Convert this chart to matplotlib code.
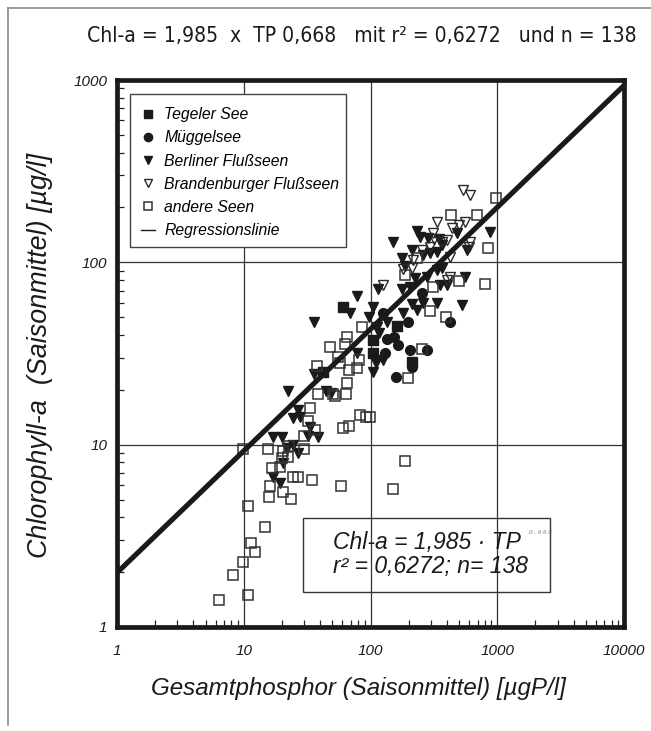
import matplotlib
matplotlib.use('Agg')
import matplotlib.pyplot as plt
from matplotlib.lines import Line2D
from matplotlib.patches import Rectangle
from matplotlib.ticker import FixedLocator, FixedFormatter, LogLocator, NullFormatter
from matplotlib import font_manager as fm
import numpy as np

# ---------------- data ----------------
tegel_tp = [61, 162, 105, 105, 42, 213]
tegel_chl = [57, 45, 37.5, 32, 25, 28.4]

mueggel_tp = [125, 198, 135, 153, 165, 130, 205, 279, 213, 159, 424, 255]
mueggel_chl = [53, 47, 38, 39, 35, 32, 33, 33, 26.7, 23.5, 47, 68]

berlin_tp = [150, 233, 246, 284, 347, 367, 213, 295, 481, 577, 177, 877, 557, 115,
             335, 353, 279, 260, 335,
             78, 69, 36, 105, 97, 112, 117, 78, 111, 125, 105, 177, 205, 213, 260,
             335, 233, 181, 135, 402, 527,
             17, 20, 22, 24.5, 26.8, 20.4, 17, 19.3, 22.3, 44.5, 49, 26.8, 24.5,
             27.8, 33.3, 32.1, 38.5, 35.8,
             187, 367, 223]
berlin_chl = [129, 149, 138, 136, 134, 125, 117, 113, 145, 117, 106, 147, 83, 71,
              91, 75, 83, 110, 114,
              65, 53, 47, 57, 50, 44, 41, 32, 28, 29, 25, 71, 73, 59, 60,
              60, 55, 53, 47, 75, 58,
              11, 11, 9.6, 10, 9.0, 7.9, 6.65, 6.2, 19.7, 19.7, 19.2, 15.5, 14,
              14.2, 12.5, 11.2, 11, 24.5,
              95, 93, 82]

brand_tp = [537, 610, 335, 440, 499, 557, 311, 367, 402, 255, 295, 610, 599, 424,
            216, 181, 125, 424, 402, 318, 213]
brand_chl = [250, 234, 167, 154, 160, 167, 145, 129, 133, 117, 121, 129, 121, 107,
             103, 92, 75, 83, 80, 134, 93]

andere_tp = [977, 432, 692, 845, 800, 499, 187, 233, 311, 295, 394, 255, 198,
             48, 65, 63, 86, 55, 57.5, 81, 78, 68, 38, 65,
             38.5, 50.6, 52.5, 64, 33.3, 32.1, 29.9, 36.5, 60.7, 67.7, 82.7, 92, 99,
             9.9, 15.5, 20.4, 22.8, 29.9, 20, 22.3, 16.7, 19.3, 24.5, 26.8, 34.5,
             16.1, 20.4, 15.8, 23.6, 58.5, 150, 187,
             10.9, 14.7, 11.4, 12.3, 9.9, 8.2, 10.8, 6.4]
andere_chl = [226, 182, 182, 120, 76, 79, 85, 106, 73, 54, 50, 33.5, 23.2,
              34.4, 39, 35.7, 44, 30.3, 28.1, 29.2, 26.4, 25.7, 27, 21.8,
              19, 19, 18.5, 19, 15.9, 13.5, 11.2, 12, 12.4, 12.7, 14.6, 14.2, 14.2,
              9.5, 9.5, 9.2, 9.84, 9.5, 8.5, 8.6, 7.45, 7.5, 6.65, 6.65, 6.4,
              5.93, 5.5, 5.17, 5.04, 5.93, 5.71, 8.1,
              4.61, 3.54, 2.89, 2.58, 2.27, 1.93, 1.5, 1.41]

reg_a = 1.985
reg_b = 0.668
reg_x = [1, 10000]

x_ticks = [1, 10, 100, 1000, 10000]
x_ticklabels = ['1', '10', '100', '1000', '10000']
y_ticks = [1, 10, 100, 1000]
y_ticklabels = ['1', '10', '100', '1000']

legend_labels = ['Tegeler See', 'Müggelsee', 'Berliner Flußseen',
                 'Brandenburger Flußseen', 'andere Seen', 'Regressionslinie']

title_text = 'Chl-a = 1,985  x  TP 0,668   mit r² = 0,6272   und n = 138'
xlabel_text = 'Gesamtphosphor (Saisonmittel) [µgP/l]'
ylabel_text = 'Chlorophyll-a  (Saisonmittel) [µg/l]'
box_line1 = 'Chl-a = 1,985 · TP'
box_sup = '0 , 6 6 8'
box_line2 = 'r² = 0,6272; n= 138'

# ---------------- figure ----------------
W, H = 651, 731
fig = plt.figure(figsize=(W / 100, H / 100), dpi=100)
fig.patch.set_facecolor('white')

SANS = ['Liberation Sans', 'DejaVu Sans']

# look for an installed condensed face for the headline
cond_fp = None
for f in fm.fontManager.ttflist:
    nm = (f.name + ' ' + str(f.fname)).lower()
    if ('narrow' in nm or 'condensed' in nm or str(f.stretch) in ('condensed', 'semi-condensed')) \
            and f.style == 'normal' and str(f.weight) in ('400', 'normal', 'regular', 'book') \
            and 'bold' not in nm and 'light' not in nm and 'mono' not in nm:
        cond_fp = fm.FontProperties(fname=f.fname)
        break
if cond_fp is None:
    cond_fp = fm.FontProperties(family=SANS)

# frame lines of the page
fig.add_artist(Line2D([8 / W, 8 / W], [1 - 8 / H, 1 - 725 / H], color='#8a8a8a', lw=1.2))
fig.add_artist(Line2D([8 / W, 1.0], [1 - 8 / H, 1 - 8 / H], color='#8a8a8a', lw=1.2))

ax = fig.add_axes([117 / W, 1 - 627 / H, 507 / W, 547 / H])
ax.set_xscale('log')
ax.set_yscale('log')
ax.set_xlim(1, 10000)
ax.set_ylim(1, 1000)

for s in ax.spines.values():
    s.set_linewidth(3.4)
    s.set_color('#1a1a1a')
    s.set_zorder(6)

ax.xaxis.set_major_locator(FixedLocator(x_ticks))
ax.xaxis.set_major_formatter(FixedFormatter(x_ticklabels))
ax.yaxis.set_major_locator(FixedLocator(y_ticks))
ax.yaxis.set_major_formatter(FixedFormatter(y_ticklabels))
ax.xaxis.set_minor_locator(LogLocator(base=10, subs=np.arange(2, 10)))
ax.yaxis.set_minor_locator(LogLocator(base=10, subs=np.arange(2, 10)))
ax.xaxis.set_minor_formatter(NullFormatter())
ax.yaxis.set_minor_formatter(NullFormatter())
ax.tick_params(which='both', direction='in', top=False, right=False, color='#222')
ax.tick_params(which='major', length=0)
ax.tick_params(which='minor', length=5, width=0.9)
ax.tick_params(axis='y', pad=7)
ax.tick_params(axis='x', pad=12)
for lab in ax.get_xticklabels() + ax.get_yticklabels():
    lab.set_fontfamily(SANS)
    lab.set_fontstyle('italic')
    lab.set_fontsize(11)
    lab.set_color('#1a1a1a')

ax.grid(which='major', color='#333333', lw=0.9, zorder=0)
ax.set_axisbelow(True)

ms = dict(linestyle='none', zorder=3)
h1, = ax.plot(tegel_tp, tegel_chl, marker='s', ms=7, color='#1a1a1a', **ms)
h2, = ax.plot(mueggel_tp, mueggel_chl, marker='o', ms=7, color='#1a1a1a', **ms)
h3, = ax.plot(berlin_tp, berlin_chl, marker='v', ms=7.5, color='#1a1a1a', **ms)
h4, = ax.plot(brand_tp, brand_chl, marker='v', ms=7.5, mfc='none', mec='#2a2a2a', mew=1.0, **ms)
h5, = ax.plot(andere_tp, andere_chl, marker='s', ms=7, mfc='none', mec='#333333', mew=1.1, **ms)

rx = np.array(reg_x, dtype=float)
ax.plot(rx, reg_a * rx ** reg_b, color='#1a1a1a', lw=3.7, solid_capstyle='butt', zorder=4)

# legend (frame drawn separately for exact size)
reg_proxy = Line2D([], [], color='#1a1a1a', lw=1.0)
leg = ax.legend([h1, h2, h3, h4, h5, reg_proxy], legend_labels,
                loc='upper left', bbox_to_anchor=(13 / 507, 1 - 16 / 547),
                prop={'family': SANS, 'style': 'italic', 'size': 11.3},
                frameon=False, handlelength=0.9, handletextpad=0.55,
                labelspacing=0.52, borderpad=0.72, borderaxespad=0, markerscale=0.85)
leg.set_zorder(5)
ax.add_patch(Rectangle(((130 - 117) / 507, (627 - 247) / 547), (346 - 130) / 507,
                       (247 - 94) / 547, transform=ax.transAxes, facecolor='white',
                       edgecolor='#444444', lw=1.0, zorder=4.5))

# formula box
ax.add_patch(Rectangle(((303 - 117) / 507, (627 - 592) / 547), (550 - 303) / 507,
                       (592 - 518) / 547, transform=ax.transAxes,
                       fill=False, edgecolor='#333333', lw=1.0, zorder=5))
ax.text((333 - 117) / 507, (627 - 543) / 547, box_line1, transform=ax.transAxes,
        fontfamily=SANS, fontstyle='italic', fontsize=16.5, ha='left', va='center',
        color='#1a1a1a', zorder=6)
ax.text((529 - 117) / 507, (627 - 532) / 547, box_sup, transform=ax.transAxes,
        fontfamily=SANS, fontstyle='italic', fontsize=4.5, ha='left', va='center',
        color='#777777', zorder=6)
ax.text((333 - 117) / 507, (627 - 567) / 547, box_line2, transform=ax.transAxes,
        fontfamily=SANS, fontstyle='italic', fontsize=16.5, ha='left', va='center',
        color='#1a1a1a', zorder=6)

# texts outside axes
t_title = fig.text(362 / W, 1 - 36 / H, title_text, fontproperties=cond_fp,
                   ha='center', va='center', color='#1a1a1a')
t_title.set_fontsize(16)
t_x = fig.text(358 / W, 1 - 688 / H, xlabel_text, fontfamily=SANS, fontstyle='italic',
               fontsize=17, ha='center', va='center', color='#1a1a1a')
t_y = fig.text(40 / W, 1 - 355 / H, ylabel_text, fontfamily=SANS, fontstyle='italic',
               fontsize=17, ha='center', va='center', rotation=90, color='#1a1a1a')

# fit text extents to the measured sizes of the reference
renderer = fig.canvas.get_renderer()
def fit(t, target, use_height=False):
    bb = t.get_window_extent(renderer)
    cur = bb.height if use_height else bb.width
    t.set_fontsize(t.get_fontsize() * target / cur)

fit(t_title, 550)
fit(t_x, 415)
fit(t_y, 405, use_height=True)

fig.savefig('out.png', dpi=100, facecolor='white')
